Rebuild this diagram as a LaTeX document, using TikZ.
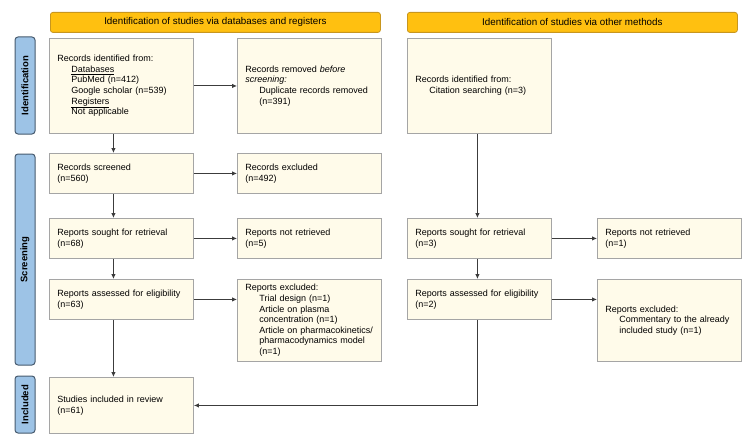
\documentclass[tikz,border=0pt]{standalone}
\usepackage{fontspec}
\setmainfont{Liberation Sans}
\usetikzlibrary{arrows.meta,calc}
\definecolor{headfill}{RGB}{255,192,16}
\definecolor{headdraw}{RGB}{200,150,30}
\definecolor{sidefill}{RGB}{157,195,230}
\definecolor{sidedraw}{RGB}{70,90,110}
\definecolor{boxfill}{RGB}{255,251,234}
\definecolor{boxdraw}{RGB}{165,165,165}
\definecolor{arrcol}{RGB}{60,60,60}
\tikzset{
  box/.style={draw=boxdraw, fill=boxfill, line width=0.9pt, anchor=north west,
    text width=128pt, inner xsep=8pt, inner ysep=2pt, align=left,
    minimum width=144pt, font=\fontsize{9}{10.6}\selectfont},
  head/.style={draw=headdraw, fill=headfill, line width=0.8pt, rounded corners=2.5pt,
    anchor=north west, inner sep=0pt, font=\fontsize{9.8}{11}\selectfont},
  side/.style={draw=sidedraw, fill=sidefill, line width=1pt, rounded corners=3pt},
  sidetext/.style={rotate=90, font=\fontsize{9.5}{11}\selectfont\bfseries},
  arr/.style={draw=arrcol, line width=0.9pt, -{Latex[length=5pt,width=4.5pt]}},
}
\newcommand{\ind}{\hspace*{14pt}}
\begin{document}
\begin{tikzpicture}[x=1pt,y=-1pt]
\useasboundingbox (0,0) rectangle (750,444);
% headers
\node[head, minimum width=330pt, minimum height=20pt] (h1) at (50,12) {Identification of studies via databases and registers};
\node[head, minimum width=330pt, minimum height=20pt] (h2) at (407,12) {Identification of studies via other methods};
% side labels
\draw[side] (15,37) rectangle (35,134);
\node[sidetext] (s1) at (25,85.5) {Identification};
\draw[side] (15,154) rectangle (35,365);
\node[sidetext] (s2) at (25,259.5) {Screening};
\draw[side] (15,376) rectangle (35,433);
\node[sidetext] (s3) at (25,404.5) {Included};
% left column
\node[box, minimum height=95pt] (a1) at (49,38) {Records identified from:\\
\ind\underline{Databases}\\
\ind PubMed (n=412)\\
\ind Google scholar (n=539)\\
\ind\underline{Registers}\\
\ind Not applicable};
\node[box, minimum height=95pt] (b1) at (237,38) {Records removed \textit{before}\\
\textit{screening:}\\
\ind Duplicate records removed\\
\ind (n=391)};
\node[box, minimum height=40pt] (a2) at (49,153) {Records screened\\(n=560)};
\node[box, minimum height=40pt] (b2) at (237,153) {Records excluded\\(n=492)};
\node[box, minimum height=40pt] (a3) at (49,218) {Reports sought for retrieval\\(n=68)};
\node[box, minimum height=40pt] (b3) at (237,218) {Reports not retrieved\\(n=5)};
\node[box, minimum height=40pt] (a4) at (49,279) {Reports assessed for eligibility\\(n=63)};
\node[box, minimum height=82pt] (b4) at (237,279) {Reports excluded:\\
\ind Trial design (n=1)\\
\ind Article on plasma\\
\ind concentration (n=1)\\
\ind Article on pharmacokinetics/\\
\ind pharmacodynamics model\\
\ind (n=1)};
\node[box, minimum height=56pt] (a5) at (49,377) {Studies included in review\\(n=61)};
% right column
\node[box, minimum height=95pt] (c1) at (407,38) {Records identified from:\\
\ind Citation searching (n=3)};
\node[box, minimum height=40pt] (c3) at (407,218) {Reports sought for retrieval\\(n=3)};
\node[box, minimum height=40pt] (d3) at (597,218) {Reports not retrieved\\(n=1)};
\node[box, minimum height=40pt] (c4) at (407,279) {Reports assessed for eligibility\\(n=2)};
\node[box, minimum height=82pt] (d4) at (597,279) {Reports excluded:\\
\ind Commentary to the already\\
\ind included study (n=1)};
% arrows left
\draw[arr] (a1.east) -- (b1.west);
\draw[arr] (a2.east) -- (b2.west);
\draw[arr] (a3.east) -- (b3.west);
\draw[arr] (a4.east) -- (a4.east -| b4.west);
\draw[arr] ([xshift=-8pt]a1.south) -- ([xshift=-8pt]a2.north);
\draw[arr] ([xshift=-8pt]a2.south) -- ([xshift=-8pt]a3.north);
\draw[arr] ([xshift=-8pt]a3.south) -- ([xshift=-8pt]a4.north);
\draw[arr] ([xshift=-8pt]a4.south) -- ([xshift=-8pt]a5.north);
% arrows right
\draw[arr] ([xshift=-2pt]c1.south) -- ([xshift=-2pt]c3.north);
\draw[arr] ([xshift=-2pt]c3.south) -- ([xshift=-2pt]c4.north);
\draw[arr] (c3.east) -- (d3.west);
\draw[arr] (c4.east) -- (c4.east -| d4.west);
\draw[arr] ([xshift=-2pt]c4.south) |- (a5.east);
\end{tikzpicture}
\end{document}
